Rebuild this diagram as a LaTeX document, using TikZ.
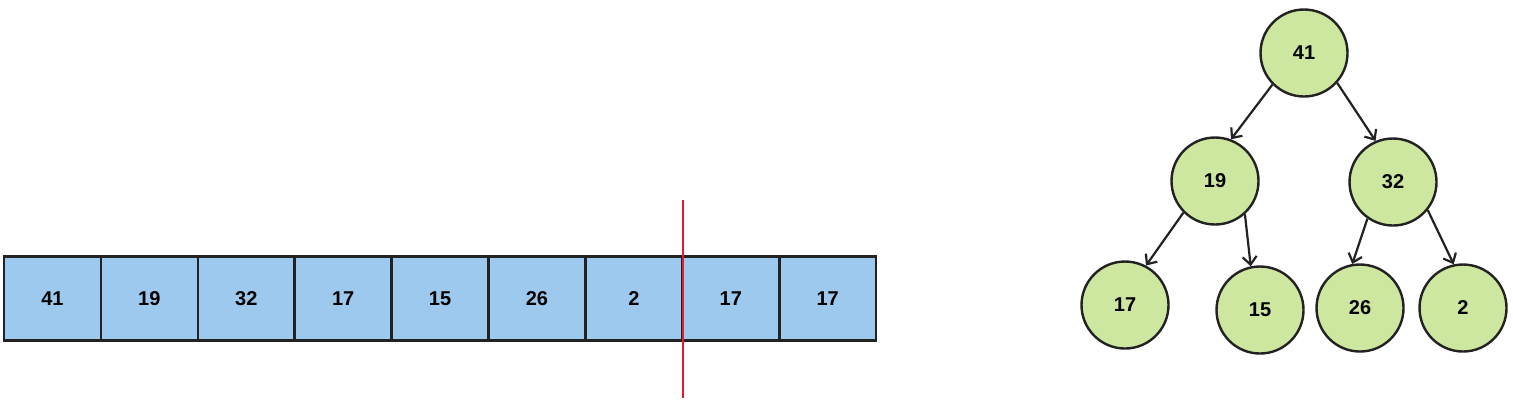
\documentclass[tikz,border=0pt]{standalone}
\usepackage{fontspec}
\setmainfont{Liberation Sans}
\usetikzlibrary{
  arrows.meta,
  positioning,
  }
\definecolor{cellblue}{RGB}{157,201,238}
\definecolor{heapgreen}{RGB}{205,230,160}
\definecolor{linegray}{RGB}{34,34,34}
\definecolor{cutred}{RGB}{225,28,48}

\begin{document}
\begin{tikzpicture}
                [x=0.5pt, y=-0.5pt, font=\bfseries,
                 cell/.style={rectangle, draw=linegray, line width=1.3pt, fill=cellblue,
                   minimum width=48.45pt, minimum height=42pt, inner sep=0pt},
                 heap/.style={circle, draw=linegray, line width=1.2pt, fill=heapgreen,
                   minimum size=43.5pt, inner sep=0pt},
                 edge/.style={draw=linegray, line width=1.1pt,
                   -{Straight Barb[length=4pt, width=7pt]}}]
                \useasboundingbox (0,0) rectangle (1513,404);
                
                % array
                \foreach \v [count=\i] in {41,19,32,17,15,26,2,17,17}
                    \node[cell] (c\i) at ({4+96.9*(\i-0.5)}, 298.5) {\v};
                
                \coordinate (cut1) at (682.5, 200);
                \coordinate (cut2) at (682.5, 398);
                \draw[cutred, line width=1pt] (cut1) -- (cut2);
                
                % heap
                \node[heap] (n1) at (1304, 53) {41};
                \node[heap] (n2) at (1215, 181) {19};
                \node[heap] (n3) at (1393, 182) {32};
                \node[heap] (n4) at (1125, 305) {17};
                \node[heap] (n5) at (1260, 310) {15};
                \node[heap] (n6) at (1360, 308) {26};
                \node[heap] (n7) at (1463, 308) {2};
                
                \foreach \from/\a/\to/\b in {n1/225/n2/69, n1/318/n3/113, n2/225/n4/62,
                                             n2/312/n5/102, n3/235/n6/100, n3/321/n7/102}
                    \draw[edge] (\from.\a) -- (\to.\b);
                
            \end{tikzpicture}
\end{document}
